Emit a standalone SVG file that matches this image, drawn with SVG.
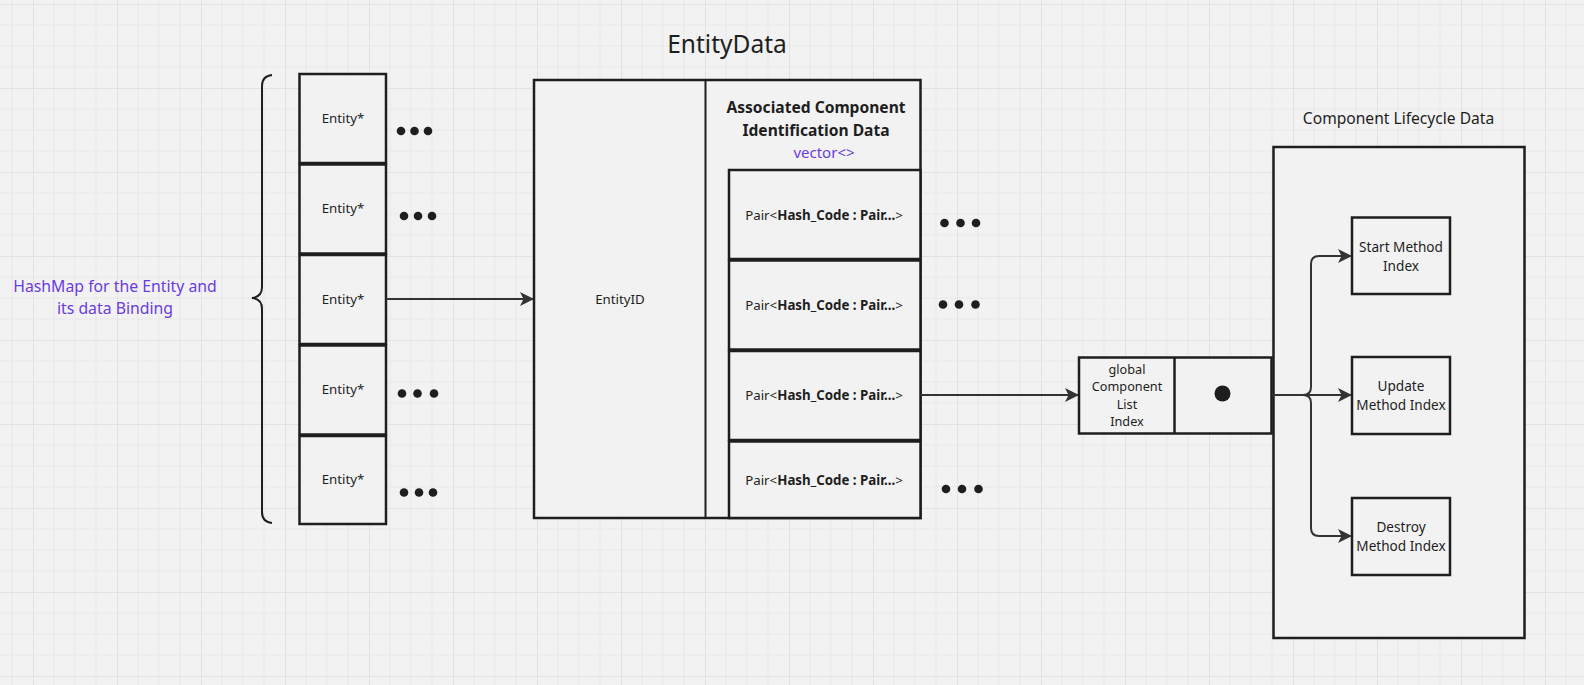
<svg xmlns="http://www.w3.org/2000/svg" width="1584" height="685" viewBox="0 0 1584 685">
<style>
.box{fill:#f2f2f2;stroke:#1e1e1e;stroke-width:2.5}
.thin{fill:none;stroke:#1e1e1e;stroke-width:2}
.t{font-family:"Noto Sans","Open Sans",sans-serif;fill:#1e1e1e;text-anchor:middle}
.s13{font-size:13.3px}
.dot{fill:#1e1e1e}
.conn{fill:none;stroke:#333;stroke-width:2}
</style>
<defs>
<pattern id="grid" x="33" y="4" width="84" height="84" patternUnits="userSpaceOnUse">
<path d="M21,0V84M42,0V84M63,0V84M0,21H84M0,42H84M0,63H84" stroke="#e8e8e8" stroke-width="1" fill="none"/>
<path d="M0.5,0V84M0,0.5H84" stroke="#e2e2e2" stroke-width="1" fill="none"/>
</pattern>
<marker id="arr" viewBox="0 0 14 14" refX="13" refY="7" markerWidth="14" markerHeight="14" markerUnits="userSpaceOnUse" orient="auto">
<path d="M0,0 L14,7 L0,14 L3.5,7 Z" fill="#333"/>
</marker>
</defs>
<rect width="1584" height="685" fill="#f2f2f2"/>
<rect width="1584" height="685" fill="url(#grid)"/>

<g id="hashmap-label">
<text class="t" x="115" y="292" font-size="15.8" style="fill:#6b3be0">HashMap for the Entity and</text>
<text class="t" x="115" y="313.5" font-size="15.8" style="fill:#6b3be0">its data Binding</text>
<path class="thin" d="M272,75 Q262,76 262,86 V287 Q262,297 252,298 Q262,299 262,309 V512 Q262,522 272,523"/>
</g>

<g id="entities">
<g id="entity1"><rect class="box" x="299.5" y="74" width="86.5" height="89"/><text class="t s13" x="343" y="123">Entity*</text>
<circle class="dot" cx="401" cy="131" r="4.3"/><circle class="dot" cx="414.5" cy="131" r="4.3"/><circle class="dot" cx="428" cy="131" r="4.3"/></g>
<g id="entity2"><rect class="box" x="299.5" y="164.5" width="86.5" height="89"/><text class="t s13" x="343" y="213">Entity*</text>
<circle class="dot" cx="404" cy="216" r="4.3"/><circle class="dot" cx="418" cy="216" r="4.3"/><circle class="dot" cx="432" cy="216" r="4.3"/></g>
<g id="entity3"><rect class="box" x="299.5" y="255" width="86.5" height="89"/><text class="t s13" x="343" y="304">Entity*</text></g>
<g id="entity4"><rect class="box" x="299.5" y="345.5" width="86.5" height="89"/><text class="t s13" x="343" y="394">Entity*</text>
<circle class="dot" cx="402" cy="393.5" r="4.3"/><circle class="dot" cx="417.5" cy="393.5" r="4.3"/><circle class="dot" cx="434" cy="393.5" r="4.3"/></g>
<g id="entity5"><rect class="box" x="299.5" y="436" width="86.5" height="88"/><text class="t s13" x="343" y="484">Entity*</text>
<circle class="dot" cx="404" cy="492.5" r="4.3"/><circle class="dot" cx="419" cy="492.5" r="4.3"/><circle class="dot" cx="433" cy="492.5" r="4.3"/></g>
</g>

<g id="entitydata">
<text class="t" x="727" y="53" font-size="24.5">EntityData</text>
<rect class="box" x="534" y="80" width="386.5" height="438"/>
<line class="thin" x1="705.5" y1="80" x2="705.5" y2="518"/>
<text class="t" x="816" y="113" font-size="15.6" font-weight="bold">Associated Component</text>
<text class="t" x="816" y="135.5" font-size="15.6" font-weight="bold">Identification Data</text>
<text class="t" x="824" y="157.5" font-size="15" style="fill:#6b3be0">vector&lt;&gt;</text>
<g id="pair1"><rect class="box" x="729" y="170" width="191.5" height="89"/><text class="t s13" x="824" y="219.5">Pair&lt;<tspan font-weight="bold">Hash_Code : Pair...</tspan>&gt;</text>
<circle class="dot" cx="944.5" cy="223" r="4.3"/><circle class="dot" cx="960.5" cy="223" r="4.3"/><circle class="dot" cx="976" cy="223" r="4.3"/></g>
<g id="pair2"><rect class="box" x="729" y="260.5" width="191.5" height="89"/><text class="t s13" x="824" y="309.5">Pair&lt;<tspan font-weight="bold">Hash_Code : Pair...</tspan>&gt;</text>
<circle class="dot" cx="943" cy="304.5" r="4.3"/><circle class="dot" cx="959" cy="304.5" r="4.3"/><circle class="dot" cx="975.5" cy="304.5" r="4.3"/></g>
<g id="pair3"><rect class="box" x="729" y="351" width="191.5" height="89"/><text class="t s13" x="824" y="400">Pair&lt;<tspan font-weight="bold">Hash_Code : Pair...</tspan>&gt;</text></g>
<g id="pair4"><rect class="box" x="729" y="441.5" width="191.5" height="76.5"/><text class="t s13" x="824" y="485">Pair&lt;<tspan font-weight="bold">Hash_Code : Pair...</tspan>&gt;</text>
<circle class="dot" cx="946" cy="489" r="4.3"/><circle class="dot" cx="962" cy="489" r="4.3"/><circle class="dot" cx="978.5" cy="489" r="4.3"/></g>
<text class="t s13" x="620" y="303.5">EntityID</text>
</g>

<g id="global-index">
<rect class="box" x="1079" y="357.5" width="192.5" height="76"/>
<line class="thin" x1="1174.5" y1="357.5" x2="1174.5" y2="433.5" style="stroke-width:2.5"/>
<text class="t" x="1127" y="373.5" font-size="12.7">global</text>
<text class="t" x="1127" y="391" font-size="12.7">Component</text>
<text class="t" x="1127" y="408.5" font-size="12.7">List</text>
<text class="t" x="1127" y="426" font-size="12.7">Index</text>
<circle class="dot" cx="1222.5" cy="393.5" r="8"/>
</g>

<g id="lifecycle">
<text class="t" x="1398.5" y="124" font-size="15.6">Component Lifecycle Data</text>
<rect class="box" x="1273.5" y="147" width="251" height="491"/>
<g id="start"><rect class="box" x="1352" y="217.5" width="98" height="76.5"/>
<text class="t" x="1401" y="252" font-size="13.6">Start Method</text><text class="t" x="1401" y="271" font-size="13.6">Index</text></g>
<g id="update"><rect class="box" x="1352" y="357" width="98" height="77"/>
<text class="t" x="1401" y="391" font-size="13.6">Update</text><text class="t" x="1401" y="410" font-size="13.6">Method Index</text></g>
<g id="destroy"><rect class="box" x="1352" y="498" width="98" height="77"/>
<text class="t" x="1401" y="532" font-size="13.6">Destroy</text><text class="t" x="1401" y="551" font-size="13.6">Method Index</text></g>
</g>

<g id="connectors">
<path class="conn" d="M386,299 H533" marker-end="url(#arr)"/>
<path class="conn" d="M920.5,395 H1078" marker-end="url(#arr)"/>
<path class="conn" d="M1272,395 H1351" marker-end="url(#arr)"/>
<path class="conn" d="M1303,395 Q1311,395 1311,387 V264 Q1311,256 1319,256 H1351" marker-end="url(#arr)"/>
<path class="conn" d="M1303,395 Q1311,395 1311,403 V528 Q1311,536 1319,536 H1351" marker-end="url(#arr)"/>
</g>
</svg>
